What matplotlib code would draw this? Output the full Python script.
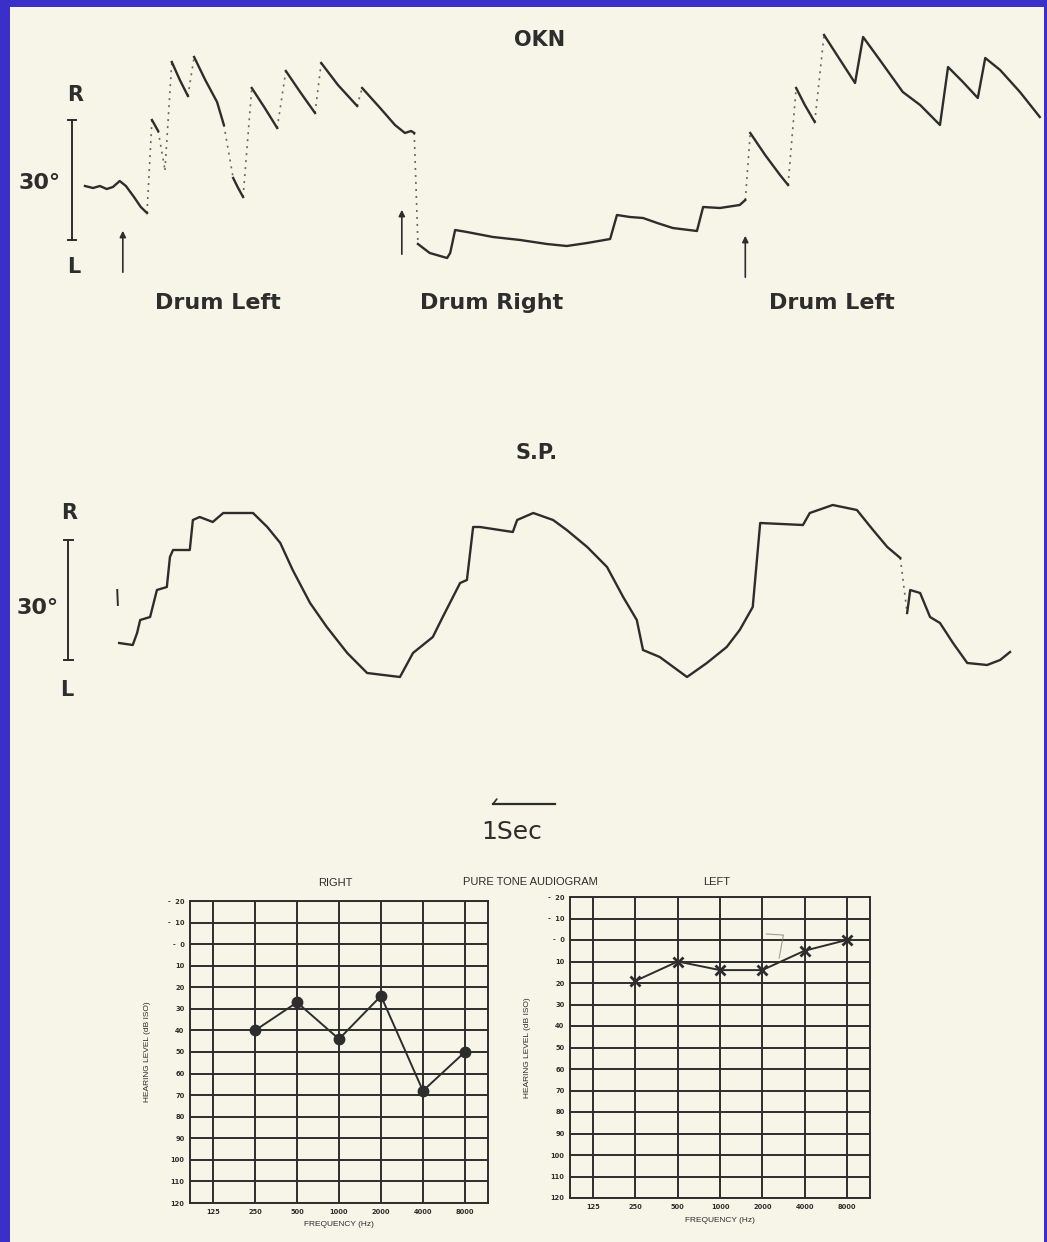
import matplotlib.pyplot as plt
from matplotlib.patches import Rectangle
from matplotlib.ticker import NullLocator

W, H = 1047, 1242
BLUE = '#3a2fc9'
PAPER = '#f6f5e7'
INK = '#2d2d2d'
FONT = ['Liberation Sans', 'DejaVu Sans']
BIG = ['DejaVu Sans']

# OKN recording: time (s), eye position (deg, + = right)
# okn_faint[i] = 1 -> segment i..i+1 is a faint (fast phase) stroke
okn_t = [0.00, 0.13, 0.24, 0.35, 0.45, 0.56, 0.66, 0.79, 0.90, 1.00,
         1.08, 1.18, 1.29, 1.40, 1.53, 1.66, 1.76, 1.94, 2.13, 2.24,
         2.39, 2.47, 2.55, 2.69, 2.90, 3.10, 3.24, 3.47, 3.71, 3.81,
         4.08, 4.39, 4.47, 4.76, 5.00, 5.16, 5.26, 5.31, 5.37, 5.56,
         5.84, 5.89, 5.97, 6.16, 6.58, 7.02, 7.45, 7.77, 8.10, 8.47,
         8.58, 8.79, 9.00, 9.23, 9.48, 9.87, 9.97, 10.24, 10.56, 10.65,
         10.73, 10.97, 11.21, 11.34, 11.47, 11.61, 11.77, 11.92, 12.18, 12.42,
         12.55, 12.82, 13.19, 13.47, 13.79, 13.92, 14.16, 14.40, 14.52, 14.76,
         15.08, 15.40]
okn_deg = [-1.5, -2.0, -1.5, -2.25, -1.75, -0.25, -1.5, -4.25, -6.75, -8.25,
           15.0, 12.25, 2.5, 29.5, 25.0, 21.0, 30.75, 25.0, 19.5, 13.75,
           0.5, -2.0, -4.25, 23.0, 18.0, 13.0, 27.25, 22.0, 16.75, 29.25,
           23.75, 18.5, 23.0, 18.0, 13.75, 11.75, 12.25, 11.75, -16.0, -18.25,
           -19.5, -18.25, -12.5, -13.0, -14.25, -15.0, -16.0, -16.5, -15.75, -14.75,
           -8.75, -9.25, -9.5, -10.75, -12.0, -12.75, -6.75, -7.0, -6.25, -5.0,
           11.75, 6.25, 1.25, -1.25, 23.0, 18.75, 14.5, 36.25, 30.0, 24.25,
           35.75, 30.0, 22.0, 18.75, 13.75, 28.25, 24.5, 20.5, 30.5, 27.5,
           22.0, 15.75]
okn_faint = [0, 0, 0, 0, 0, 0, 0, 0, 0, 1,
             0, 1, 1, 0, 0, 1, 0, 0, 0, 1,
             0, 0, 1, 0, 0, 1, 0, 0, 1, 0,
             0, 1, 0, 0, 0, 0, 0, 1, 0, 0,
             0, 0, 0, 0, 0, 0, 0, 0, 0, 0,
             0, 0, 0, 0, 0, 0, 0, 0, 0, 1,
             0, 0, 0, 1, 0, 0, 1, 0, 0, 0,
             0, 0, 0, 0, 0, 0, 0, 0, 0, 0,
             0, 0]
okn_stim_t = [0.61, 5.11, 10.65]
okn_stim_labels = ['Drum Left', 'Drum Right', 'Drum Left']

# smooth pursuit recording
sp_t = [0.55, 0.77, 0.84, 0.89, 1.05, 1.16, 1.32, 1.37, 1.42, 1.69,
        1.74, 1.85, 2.06, 2.23, 2.71, 2.94, 3.15, 3.35, 3.63, 3.90,
        4.23, 4.55, 5.08, 5.29, 5.61, 5.77, 6.05, 6.16, 6.26, 6.37,
        6.90, 6.97, 7.23, 7.55, 7.77, 8.10, 8.42, 8.68, 8.90, 9.00,
        9.27, 9.71, 10.03, 10.35, 10.56, 10.77, 10.89, 11.58, 11.69, 12.06,
        12.45, 12.71, 12.94, 13.15, 13.26, 13.31, 13.47, 13.63, 13.79, 14.00,
        14.23, 14.55, 14.76, 14.92]
sp_deg = [-10.75, -11.25, -8.25, -5.0, -4.25, 2.5, 3.25, 10.75, 12.5, 12.5,
          20.0, 20.75, 19.5, 21.75, 21.75, 18.25, 14.25, 7.5, -0.75, -6.75,
          -13.25, -18.25, -19.25, -13.25, -9.25, -4.25, 4.25, 5.0, 18.25, 18.25,
          17.0, 20.0, 21.75, 20.0, 17.5, 13.25, 8.25, 0.75, -5.0, -12.5,
          -14.25, -19.25, -15.75, -11.75, -7.5, -1.75, 19.25, 18.75, 21.75, 23.75,
          22.5, 17.5, 13.25, 10.5, -3.25, 2.5, 1.75, -4.25, -5.75, -10.75,
          -15.75, -16.25, -15.0, -13.0]
sp_faint = [0] * 53 + [1] + [0] * 10

# pure tone audiogram
freqs = [125, 250, 500, 1000, 2000, 4000, 8000]
test_freqs = [250, 500, 1000, 2000, 4000, 8000]
right_db = [40, 27, 44, 24, 68, 50]
left_db = [19, 10, 14, 14, 5, 0]
db_levels = list(range(-20, 121, 10))
db_labels = ['-  20', '-  10', '-  0'] + [str(v) for v in db_levels[3:]]
# pencil bracket on the left chart
pencil_f = [2140, 2830, 2640]
pencil_db = [-2.8, -2.3, 8.4]


def fx(px):
    return px / W


def fy(py):
    return 1 - py / H


def draw_trace(ax, t, d, faint):
    start = 0
    for i in range(len(t) - 1):
        if faint[i]:
            ax.plot(t[start:i + 1], d[start:i + 1], color=INK, lw=1.7)
            ax.plot(t[i:i + 2], d[i:i + 2], color=INK, lw=1.2,
                    ls=(0, (1.2, 3)), alpha=0.7)
            start = i + 1
    ax.plot(t[start:], d[start:], color=INK, lw=1.7)


def degree_bar(ax, x):
    ax.plot([x, x], [-15, 15], color=INK, lw=1.4)
    ax.plot([x - 0.07, x + 0.07], [15, 15], color=INK, lw=1.4)
    ax.plot([x - 0.07, x + 0.07], [-15, -15], color=INK, lw=1.4)


def label(px, py, s, size, family=BIG, weight='bold'):
    fig.text(fx(px), fy(py), s, ha='center', va='center', fontsize=size,
             color=INK, family=family, fontweight=weight)


fig = plt.figure(figsize=(W / 100, H / 100), dpi=100, facecolor=BLUE)
fig.patches.append(Rectangle((fx(10), 0), fx(1044) - fx(10), fy(7),
                             transform=fig.transFigure, facecolor=PAPER,
                             edgecolor='none', zorder=-10))

xlim = (-85 / 62, 962 / 62)

# --- OKN ---
ax1 = fig.add_axes([0, fy(330), 1, 310 / H])
ax1.set_xlim(xlim)
ax1.set_ylim(-37.5, 40)
ax1.axis('off')
draw_trace(ax1, okn_t, okn_deg, okn_faint)
degree_bar(ax1, -0.21)
arrow = dict(arrowstyle='-|>', color=INK, lw=1.2, mutation_scale=9)
ax1.annotate('', xy=(okn_stim_t[0], -12), xytext=(okn_stim_t[0], -23.75),
             arrowprops=arrow)
ax1.annotate('', xy=(okn_stim_t[1], -6.75), xytext=(okn_stim_t[1], -19.25),
             arrowprops=arrow)
ax1.annotate('', xy=(okn_stim_t[2], -13.25), xytext=(okn_stim_t[2], -25),
             arrowprops=arrow)

label(540, 40, 'OKN', 15)
label(75, 95, 'R', 15)
label(74, 267, 'L', 15)
label(40, 183, '30°', 16)
label(218, 303, okn_stim_labels[0], 16)
label(492, 303, okn_stim_labels[1], 16)
label(832, 303, okn_stim_labels[2], 16)

# --- S.P. ---
ax2 = fig.add_axes([0, fy(850), 1, 410 / H])
ax2.set_xlim(xlim)
ax2.set_ylim(-62.5, 40)
ax2.axis('off')
ax2.plot([0.52, 0.53], [2.5, -1.25], color=INK, lw=1.4)
draw_trace(ax2, sp_t, sp_deg, sp_faint)
degree_bar(ax2, -0.27)
ax2.plot([6.58, 7.58], [-51, -51], color=INK, lw=1.6)
ax2.plot([6.58, 6.64], [-51, -49.8], color=INK, lw=1.2)

label(537, 453, 'S.P.', 15)
label(69, 513, 'R', 15)
label(67, 690, 'L', 15)
label(38, 608, '30°', 16)
label(512, 832, '1Sec', 18, weight='medium')

# --- audiograms ---
label(335, 883, 'RIGHT', 8, family=FONT, weight='normal')
label(530, 882, 'PURE TONE AUDIOGRAM', 8, family=FONT, weight='normal')
label(717, 882, 'LEFT', 8, family=FONT, weight='normal')


def audiogram(rect, db, marker, ms):
    ax = fig.add_axes(rect)
    ax.set_xscale('log', base=2)
    ax.set_xlim(125 * 2 ** -0.55, 125 * 2 ** 6.55)
    ax.set_ylim(120, -20)
    ax.set_facecolor('none')
    for f in freqs:
        ax.axvline(f, color=INK, lw=1.4)
    for v in db_levels:
        ax.axhline(v, color=INK, lw=1.4)
    for s in ax.spines.values():
        s.set_linewidth(1.4)
        s.set_color(INK)
    ax.set_xticks(freqs, labels=[str(f) for f in freqs])
    ax.xaxis.set_minor_locator(NullLocator())
    ax.set_yticks(db_levels, labels=db_labels)
    ax.tick_params(length=0, labelsize=4.8, colors=INK, pad=4)
    for t in ax.get_xticklabels() + ax.get_yticklabels():
        t.set_fontweight('bold')
    ax.set_xlabel('FREQUENCY (Hz)', fontsize=6, color=INK, labelpad=5,
                  family=FONT)
    ax.set_ylabel('HEARING LEVEL (dB ISO)', fontsize=6, color=INK,
                  labelpad=12, family=FONT)
    ax.plot(test_freqs, db, color=INK, lw=1.4, marker=marker, ms=ms,
            mew=2, mfc=INK, mec=INK)
    return ax


audiogram([fx(190), fy(1203), (488 - 190) / W, (1203 - 901) / H],
          right_db, 'o', 6.5)
axl = audiogram([fx(570), fy(1198), (870 - 570) / W, (1198 - 897) / H],
                left_db, 'x', 6.5)
axl.plot(pencil_f, pencil_db, color='#777777', lw=0.8, alpha=0.7)

fig.savefig('out.png', dpi=100, facecolor=BLUE)
